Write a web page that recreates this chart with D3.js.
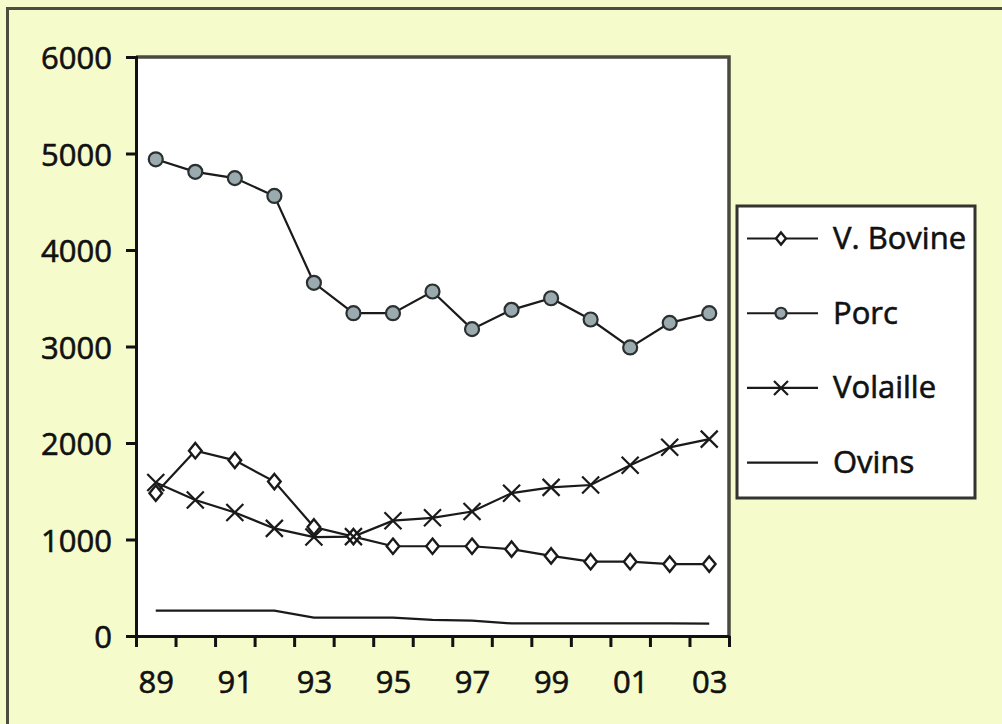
<!DOCTYPE html>
<html>
<head>
<meta charset="utf-8">
<script src="https://cdn.jsdelivr.net/npm/d3@7"></script>
<style>
  html, body { margin: 0; padding: 0; background: #f5fbcb; }
  svg { display: block; }
  text { font-family: "Open Sans", sans-serif; fill: #111; }
</style>
</head>
<body>
<svg id="chart" width="1002" height="724"></svg>
<script>
// Years on the horizontal axis (1989–2003)
const years = [1989, 1990, 1991, 1992, 1993, 1994, 1995, 1996, 1997, 1998, 1999, 2000, 2001, 2002, 2003];
const yearLabels = ["89", "91", "93", "95", "97", "99", "01", "03"];
const yTicks = [0, 1000, 2000, 3000, 4000, 5000, 6000];

// Series values
const bovine   = [1480, 1920, 1820, 1600, 1130, 1030, 930, 930, 930, 900, 830, 770, 770, 745, 745];
const porc     = [4940, 4810, 4745, 4560, 3660, 3345, 3345, 3570, 3180, 3380, 3500, 3280, 2990, 3245, 3345];
const volaille = [1590, 1410, 1280, 1115, 1025, 1030, 1195, 1225, 1290, 1480, 1540, 1565, 1770, 1955, 2040];
const ovins    = [262, 262, 262, 262, 190, 190, 190, 168, 160, 130, 130, 130, 130, 130, 128];

const seriesNames = ["V. Bovine", "Porc", "Volaille", "Ovins"];
const seriesMarks = ["diamond", "circle", "cross", "none"];

const FONT = "'Open Sans', sans-serif";
const FONT_SIZE = 31;
const svg = d3.select("#chart");

// Slightly heavier text: regular weight with a thin outline in the fill colour
function styleText(sel) {
  sel.attr("font-size", FONT_SIZE).attr("font-family", FONT).attr("font-weight", 400)
    .attr("fill", "#111").attr("stroke", "#111").attr("stroke-width", 0.6);
}

// Outer frame (top and left edges)
svg.append("rect").attr("x", 0).attr("y", 0).attr("width", 1002).attr("height", 724).attr("fill", "#f5fbcb");
svg.append("path").attr("d", "M7.5,724 V8.5 H1002").attr("fill", "none").attr("stroke", "#4d4d42").attr("stroke-width", 3);

const plot = { left: 136, right: 729, top: 57, bottom: 636 };

const x = d3.scaleLinear().domain([years[0] - 0.5, years[years.length - 1] + 0.5]).range([plot.left, plot.right]);
const y = d3.scaleLinear().domain([0, 6000]).range([plot.bottom, plot.top]);

// Plot area
svg.append("rect")
  .attr("x", plot.left).attr("y", plot.top)
  .attr("width", plot.right - plot.left).attr("height", plot.bottom - plot.top)
  .attr("fill", "#ffffff");
svg.append("path")
  .attr("d", `M${plot.left},${plot.top} H${plot.right} V${plot.bottom}`)
  .attr("fill", "none").attr("stroke", "#4a4a40").attr("stroke-width", 3.5);

// Y axis
const yAxis = svg.append("g")
  .attr("transform", `translate(${plot.left},0)`)
  .call(d3.axisLeft(y).tickValues(yTicks).tickSize(10).tickPadding(14).tickFormat(d3.format("d")));
yAxis.select(".domain").attr("stroke", "#111").attr("stroke-width", 3);
yAxis.selectAll(".tick line").attr("stroke", "#111").attr("stroke-width", 3);
yAxis.selectAll(".tick text").call(styleText).attr("dy", "0.38em");

// X axis: tick marks at year boundaries
const boundaries = d3.range(years[0] - 0.5, years[years.length - 1] + 1, 1);
const xAxis = svg.append("g")
  .attr("transform", `translate(0,${plot.bottom})`)
  .call(d3.axisBottom(x).tickValues(boundaries).tickSize(11).tickSizeOuter(0).tickFormat(""));
xAxis.select(".domain").attr("stroke", "#111").attr("stroke-width", 3);
xAxis.selectAll(".tick line").attr("stroke", "#111").attr("stroke-width", 3);

// X labels every other year, centred in the year slot
const labelYears = years.filter((d, i) => i % 2 === 0);
const xLab = svg.append("g")
  .attr("transform", `translate(0,${plot.bottom})`)
  .call(d3.axisBottom(x).tickValues(labelYears).tickSize(0).tickPadding(0)
    .tickFormat((d, i) => yearLabels[i]));
xLab.select(".domain").remove();
xLab.selectAll(".tick text").call(styleText).attr("y", 57).attr("dy", 0);

// Markers
const lineColor = "#1a1a1a";
function drawMarker(g, type, cx, cy, s) {
  if (type === "diamond") {
    g.append("path")
      .attr("d", `M${cx},${cy - s * 1.1} L${cx + s * 0.9},${cy} L${cx},${cy + s * 1.1} L${cx - s * 0.9},${cy} Z`)
      .attr("fill", "#fff").attr("stroke", lineColor).attr("stroke-width", 2.4);
  } else if (type === "circle") {
    g.append("circle").attr("cx", cx).attr("cy", cy).attr("r", s)
      .attr("fill", "#9aaaae").attr("stroke", "#2a2f30").attr("stroke-width", 2.2);
  } else if (type === "cross") {
    g.append("path")
      .attr("d", `M${cx - s},${cy - s} L${cx + s},${cy + s} M${cx - s},${cy + s} L${cx + s},${cy - s}`)
      .attr("stroke", lineColor).attr("stroke-width", 2.2).attr("fill", "none");
  }
}

const line = d3.line().x((d, i) => x(years[i])).y(d => y(d));
const allSeries = [bovine, porc, volaille, ovins];
const plotSize = { diamond: 7, circle: 7, cross: 8.5, none: 0 };
const legendSize = { diamond: 5.5, circle: 5.5, cross: 7, none: 0 };

// Lines first, then markers on top
const lines = svg.append("g");
allSeries.forEach((vals) => {
  lines.append("path").datum(vals).attr("d", line)
    .attr("fill", "none").attr("stroke", lineColor).attr("stroke-width", 2.2);
});
const marks = svg.append("g");
allSeries.forEach((vals, k) => {
  vals.forEach((v, i) => drawMarker(marks, seriesMarks[k], x(years[i]), y(v), plotSize[seriesMarks[k]]));
});

// Legend
const legend = svg.append("g");
legend.append("rect")
  .attr("x", 737).attr("y", 206).attr("width", 238).attr("height", 292)
  .attr("fill", "#ffffff").attr("stroke", "#333330").attr("stroke-width", 3);
const legendY = d3.scaleLinear().domain([0, 3]).range([238.5, 462.7]);
seriesNames.forEach((name, k) => {
  const ly = legendY(k);
  legend.append("line").attr("x1", 747).attr("x2", 818).attr("y1", ly).attr("y2", ly)
    .attr("stroke", lineColor).attr("stroke-width", 2.2);
  drawMarker(legend, seriesMarks[k], 781, ly, legendSize[seriesMarks[k]]);
  legend.append("text").attr("x", 833).attr("y", ly + 10.5).call(styleText).text(name);
});
</script>
</body>
</html>
